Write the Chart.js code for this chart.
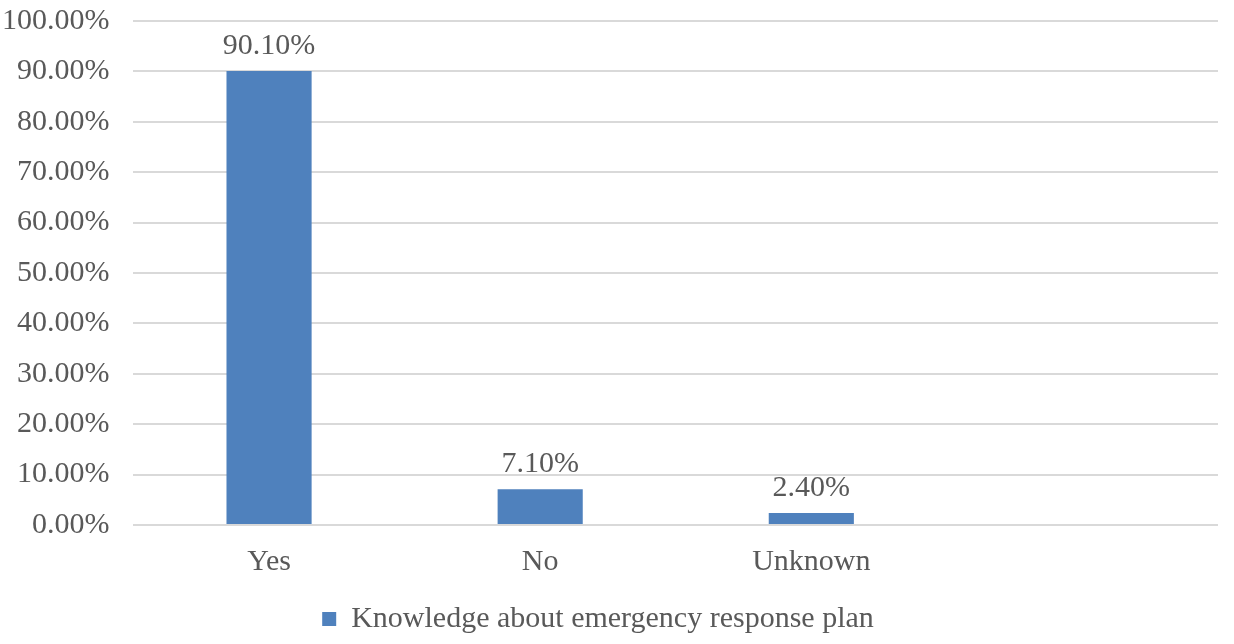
<!DOCTYPE html>
<html>
<head>
<meta charset="utf-8">
<script src="https://cdn.jsdelivr.net/npm/chart.js@4.4.0/dist/chart.umd.min.js"></script>
<style>
  html, body { margin: 0; padding: 0; background: #fff; overflow: hidden; }
  /* Chart.js keeps extra room above the top tick, so pull the canvas up a bit */
  #wrap { width: 1234px; height: 662px; margin-top: -18px; }
</style>
</head>
<body>
<div id="wrap"><canvas id="kChart"></canvas></div>
<script>
// --- data ---
var categories = ['Yes', 'No', 'Unknown', ''];
var knowledgeValues = [90.1, 7.1, 2.4, null];
var seriesName = 'Knowledge about emergency response plan';

var barBlue = '#4f81bd';
var textGrey = '#595959';
var serif = '"Liberation Serif", "Times New Roman", serif';

// draws the value above each bar
var valueLabels = {
    id: 'valueLabels',
    afterDatasetsDraw: function (chart) {
        var ctx = chart.ctx;
        var meta = chart.getDatasetMeta(0);
        ctx.save();
        ctx.font = '30px ' + serif;
        ctx.fillStyle = textGrey;
        ctx.textAlign = 'center';
        ctx.textBaseline = 'alphabetic';
        meta.data.forEach(function (bar, i) {
            var v = knowledgeValues[i];
            if (v === null || v === undefined) return;
            ctx.fillText(v.toFixed(2) + '%', bar.x, bar.y - 17);
        });
        ctx.restore();
    }
};

Chart.defaults.font.family = serif;
Chart.defaults.color = textGrey;

new Chart(document.getElementById('kChart').getContext('2d'), {
    type: 'bar',
    data: {
        labels: categories,
        datasets: [{
            label: seriesName,
            data: knowledgeValues,
            backgroundColor: barBlue,
            borderWidth: 0,
            categoryPercentage: 1,
            barPercentage: 0.314
        }]
    },
    options: {
        responsive: true,
        maintainAspectRatio: false,
        animation: false,
        layout: { padding: { top: 0, right: 16, left: -22, bottom: 0 } },
        scales: {
            x: {
                grid: { display: false },
                border: { display: false },
                ticks: { font: { size: 30 }, color: textGrey, padding: 11 }
            },
            y: {
                min: 0,
                max: 100,
                ticks: {
                    stepSize: 10,
                    font: { size: 30, lineHeight: 1 },
                    color: textGrey,
                    padding: 24,
                    callback: function (v) { return v.toFixed(2) + '%'; }
                },
                grid: { color: '#d9d9d9', lineWidth: 2, drawTicks: false },
                border: { display: false }
            }
        },
        plugins: {
            legend: {
                position: 'bottom',
                labels: {
                    boxWidth: 14,
                    boxHeight: 14,
                    font: { size: 30 },
                    color: textGrey,
                    padding: 13
                }
            },
            tooltip: { enabled: false }
        }
    },
    plugins: [valueLabels]
});
</script>
</body>
</html>
